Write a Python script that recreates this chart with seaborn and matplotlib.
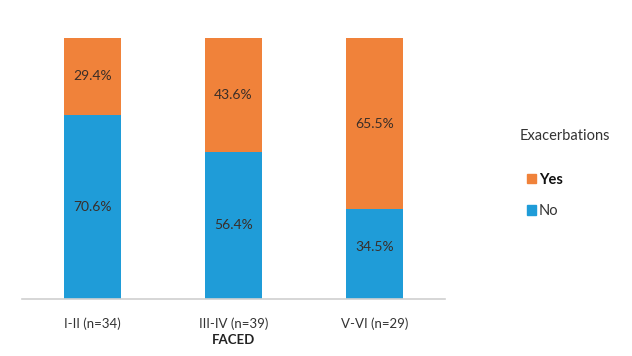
import pandas as pd
import matplotlib
matplotlib.use("Agg")
import matplotlib.pyplot as plt
import seaborn as sns
from matplotlib.patches import Patch

# dados
categorias = ["I-II (n=34)", "III-IV (n=39)", "V-VI (n=29)"]
pct_nao = [70.6, 56.4, 34.5]
pct_sim = [29.4, 43.6, 65.5]

cor_nao = "#1f9cd8"
cor_sim = "#f0823a"

sns.set_theme(style="white")
plt.rcParams["font.family"] = ["Lato", "DejaVu Sans"]

df = pd.DataFrame({"faced": categorias, "No": pct_nao, "Yes": pct_sim})
df["total"] = df["No"] + df["Yes"]

fig = plt.figure(figsize=(6.32, 3.56), dpi=100)
ax = fig.add_axes([0.035, 0.160, 0.669, 0.733])

# barra total (laranja) por trás, azul por cima
sns.barplot(data=df, x="faced", y="total", color=cor_sim, width=0.4, saturation=1,
            linewidth=0, ax=ax)
sns.barplot(data=df, x="faced", y="No", color=cor_nao, width=0.4, saturation=1,
            linewidth=0, ax=ax)

# rótulos
for i, (n, s) in enumerate(zip(pct_nao, pct_sim)):
    if n > 40:
        ax.text(i, n / 2, f"{n}%", ha="center", va="center", fontsize=10, color="#3a2e28")
    else:
        ax.text(i, n - 14.5, f"{n}%", ha="center", va="center", fontsize=10, color="#3a2e28")
    ax.text(i, n + s / 2, f"{s}%", ha="center", va="center", fontsize=10, color="#3a2e28")

ax.set_ylim(0, 100)
ax.set_xlim(-0.5, 2.5)
ax.set_yticks([])
ax.set_ylabel("")
ax.set_xlabel("FACED", fontsize=9.5, fontweight="bold", color="#222222", labelpad=3)
ax.tick_params(axis="x", length=0, labelsize=9.5, colors="#333333", pad=13)
for lado in ["top", "right", "left"]:
    ax.spines[lado].set_visible(False)
ax.spines["bottom"].set_color("#d0d0d0")
ax.spines["bottom"].set_linewidth(1.2)

# legenda: título separado e itens deslocados
fig.text(520 / 632, 1 - 136 / 356, "Exacerbations", ha="left", va="center",
         fontsize=10.5, color="#333333")
handles = [Patch(color=cor_sim, label="Yes"), Patch(color=cor_nao, label="No")]
leg = fig.legend(handles=handles, loc="center left",
                 bbox_to_anchor=(527 / 632, 1 - 195.5 / 356), frameon=False, fontsize=10.5,
                 handlelength=0.6, handleheight=0.6, handletextpad=0.2,
                 labelspacing=1.2, borderaxespad=0, borderpad=0)
leg.get_texts()[0].set_fontweight("bold")
leg.get_texts()[0].set_color("#111111")
leg.get_texts()[1].set_color("#333333")

fig.savefig("out.png", dpi=100)
